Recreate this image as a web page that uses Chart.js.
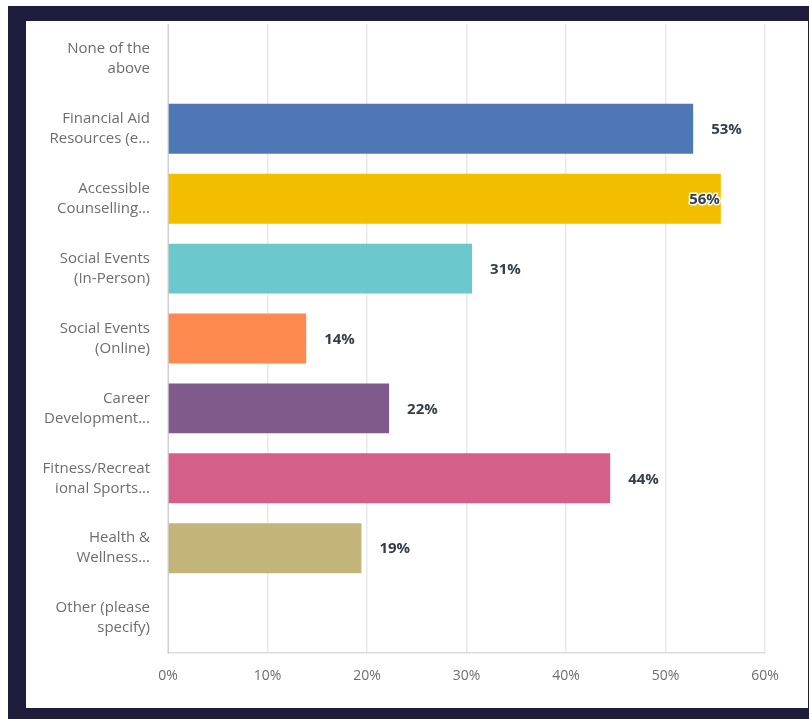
<!DOCTYPE html>
<html>
<head>
<meta charset="utf-8">
<script src="https://cdn.jsdelivr.net/npm/chart.js@4/dist/chart.umd.min.js"></script>
<style>
  html, body { margin: 0; padding: 0; background: #fff; }
  #frame { position: absolute; left: 8px; top: 6px; width: 801px; height: 713px; background: #1e1d3b; }
  #panel { position: absolute; left: 18px; top: 15px; width: 782px; height: 687px; background: #fff; }
  canvas { display: block; }
</style>
</head>
<body>
<div id="frame"><div id="panel"><canvas id="myChart" width="782" height="687"></canvas></div></div>
<script>
let categories = [
  ['None of the', 'above'],
  ['Financial Aid', 'Resources (e...'],
  ['Accessible', 'Counselling...'],
  ['Social Events', '(In-Person)'],
  ['Social Events', '(Online)'],
  ['Career', 'Development...'],
  ['Fitness/Recreat', 'ional Sports...'],
  ['Health &', 'Wellness...'],
  ['Other (please', 'specify)']
];
// share of respondents, percent
let values = [0, 52.78, 55.56, 30.56, 13.89, 22.22, 44.44, 19.44, 0];
let colors = ['#5077b5', '#5077b5', '#f4be00', '#6bc8cd', '#ff8a4f', '#7f5a8b', '#d45f8a', '#c3b57a', '#c3b57a'];
let xTicks = [0, 10, 20, 30, 40, 50, 60];

const FONT = '"Open Sans", sans-serif';

// percent labels at the end of each bar
const valueLabels = {
  id: 'valueLabels',
  afterDatasetsDraw(chart) {
    const ctx = chart.ctx;
    const meta = chart.getDatasetMeta(0);
    ctx.save();
    ctx.font = 'bold 15px ' + FONT;
    ctx.textBaseline = 'middle';
    meta.data.forEach((bar, i) => {
      const v = values[i];
      if (!v) return;
      const text = Math.round(v) + '%';
      const w = ctx.measureText(text).width;
      let x = bar.x + 18;
      if (x + w > chart.chartArea.right) {
        // no room on the right: tuck it inside the bar end with a halo
        x = bar.x - w - 1;
        ctx.lineWidth = 3;
        ctx.strokeStyle = '#fff';
        ctx.lineJoin = 'round';
        ctx.strokeText(text, x, bar.y + 1);
      }
      ctx.fillStyle = '#333e48';
      ctx.fillText(text, x, bar.y + 1);
    });
    ctx.restore();
  }
};

new Chart(document.getElementById('myChart'), {
  type: 'bar',
  data: {
    labels: categories,
    datasets: [{
      data: values,
      backgroundColor: colors,
      barPercentage: 0.715,
      categoryPercentage: 1
    }]
  },
  options: {
    indexAxis: 'y',
    responsive: false,
    animation: false,
    layout: { padding: { left: 0, right: 43, top: 3, bottom: 0 } },
    plugins: { legend: { display: false }, tooltip: { enabled: false } },
    scales: {
      x: {
        min: 0,
        max: 60,
        afterBuildTicks(scale) { scale.ticks = xTicks.map(v => ({ value: v })); },
        afterFit(scale) { scale.height = 55; },
        grid: { color: '#e9e9e9', lineWidth: 1.5, drawTicks: false },
        border: { color: '#dcdcdc', width: 1.5 },
        ticks: {
          padding: 15,
          color: '#6b6d71',
          font: { family: FONT, size: 14 },
          callback: v => v + '%'
        }
      },
      y: {
        afterFit(scale) {
          scale.width = 142;
          scale.paddingTop = 0;
          scale.paddingBottom = 0;
        },
        grid: { display: false, drawTicks: false },
        border: { color: '#cfcfcf', width: 1 },
        ticks: {
          padding: 18,
          color: '#6b6d71',
          font: { family: FONT, size: 15, lineHeight: 1.33 }
        }
      }
    }
  },
  plugins: [valueLabels]
});
</script>
</body>
</html>
